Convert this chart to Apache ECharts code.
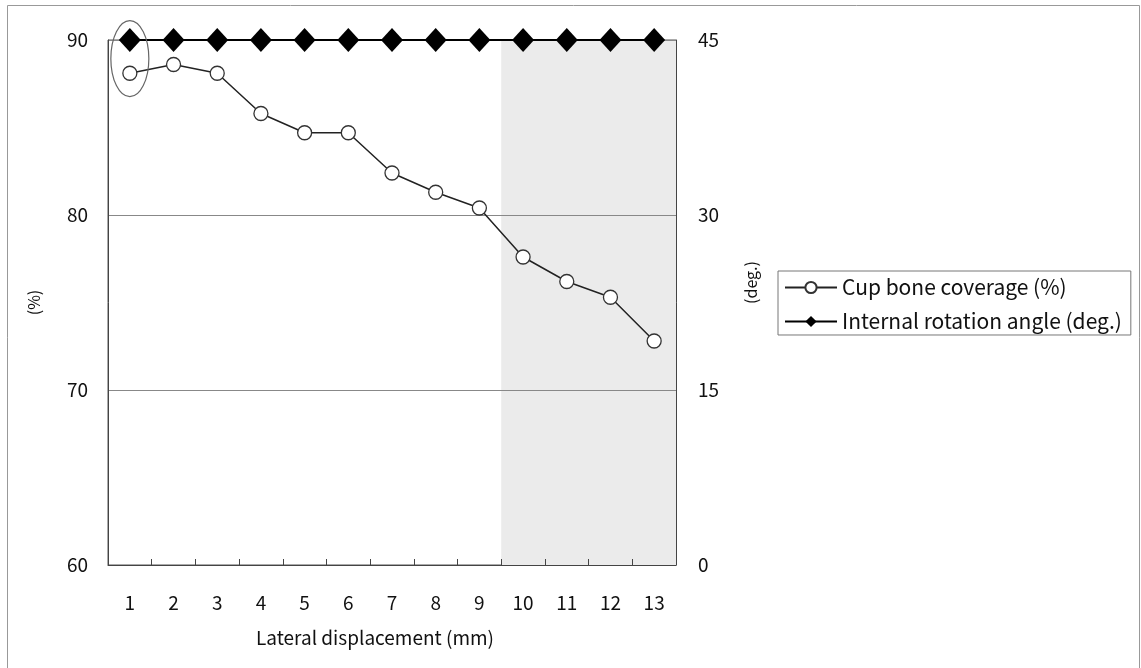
<!DOCTYPE html>
<html>
<head>
<meta charset="utf-8">
<script src="https://cdn.jsdelivr.net/npm/echarts@6/dist/echarts.min.js"></script>
<style>
  html, body { margin: 0; padding: 0; background: #fff; }
  #chart { width: 1141px; height: 668px; }
</style>
</head>
<body>
<div id="chart"></div>
<script>
// Lateral displacement steps (mm)
const displacement = ['1', '2', '3', '4', '5', '6', '7', '8', '9', '10', '11', '12', '13'];
// Cup bone coverage (%) at each displacement
const cupCoverage = [88.1, 88.6, 88.1, 85.8, 84.7, 84.7, 82.4, 81.3, 80.4, 77.6, 76.2, 75.3, 72.8];
// Internal rotation angle (deg.) at each displacement
const rotationAngle = [45, 45, 45, 45, 45, 45, 45, 45, 45, 45, 45, 45, 45];
// Displacement range that is shaded (band edges on a 0.5..13.5 scale)
const shadedRange = [9.5, 13.5];
// Axis ranges
const leftAxis = { min: 60, max: 90, interval: 10 };
const rightAxis = { min: 0, max: 45, interval: 15 };

const FONT = '"Noto Sans CJK JP", "Noto Sans", sans-serif';
const chart = echarts.init(document.getElementById('chart'));

chart.setOption({
  animation: false,
  textStyle: { fontFamily: FONT, color: '#111' },
  grid: {
    left: 108, right: 465, top: 40, bottom: 103,
    show: true, borderColor: '#555', borderWidth: 1
  },
  legend: {
    orient: 'vertical',
    left: 778, top: 271,
    borderColor: '#777', borderWidth: 1,
    padding: [6, 9, 3, 6],
    itemGap: 13,
    itemWidth: 52, itemHeight: 14,
    textStyle: { fontFamily: FONT, fontSize: 21, color: '#111' },
    data: ['Cup bone coverage (%)', 'Internal rotation angle (deg.)']
  },
  xAxis: [{
    type: 'category',
    data: displacement,
    boundaryGap: true,
    z: 2,
    name: 'Lateral displacement (mm)',
    nameLocation: 'middle',
    nameGap: 63,
    nameTextStyle: { fontFamily: FONT, fontSize: 19, color: '#111', padding: [0, 34, 0, 0] },
    axisLine: { lineStyle: { color: '#444', width: 1 } },
    axisTick: { show: true, inside: true, length: 6, lineStyle: { color: '#444' } },
    axisLabel: { margin: 28, fontFamily: FONT, fontSize: 19, color: '#111' }
  }, {
    // helper scale for the shaded band, spanning the same width as the categories
    type: 'value', min: 0.5, max: 13.5, show: false
  }],
  yAxis: [{
    type: 'value',
    z: 2,
    min: leftAxis.min, max: leftAxis.max, interval: leftAxis.interval,
    name: '(%)',
    nameLocation: 'middle',
    nameGap: 66,
    nameTextStyle: { fontFamily: FONT, fontSize: 16, color: '#111' },
    axisLine: { show: true, lineStyle: { color: '#444' } },
    axisTick: { show: false },
    axisLabel: { margin: 20, fontFamily: FONT, fontSize: 19, color: '#111' },
    splitLine: { show: true, lineStyle: { color: '#888', width: 1 } }
  }, {
    type: 'value',
    z: 2,
    position: 'right',
    min: rightAxis.min, max: rightAxis.max, interval: rightAxis.interval,
    name: '(deg.)',
    nameLocation: 'middle',
    nameGap: 67,
    nameTextStyle: { fontFamily: FONT, fontSize: 16, color: '#111', padding: [0, 0, 0, 40] },
    axisLine: { show: true, lineStyle: { color: '#444' } },
    axisTick: { show: false },
    axisLabel: { margin: 22, fontFamily: FONT, fontSize: 19, color: '#111' },
    splitLine: { show: false }
  }],
  series: [{
    // shaded displacement band
    type: 'line',
    xAxisIndex: 1,
    yAxisIndex: 0,
    data: [],
    silent: true,
    z: 0,
    markArea: {
      silent: true,
      z: 0,
      itemStyle: { color: '#ebebeb' },
      data: [[{ xAxis: shadedRange[0] }, { xAxis: shadedRange[1] }]]
    }
  }, {
    name: 'Cup bone coverage (%)',
    type: 'line',
    xAxisIndex: 0,
    yAxisIndex: 0,
    data: cupCoverage,
    symbol: 'circle',
    symbolSize: 14,
    lineStyle: { color: '#222', width: 1.5 },
    itemStyle: { color: '#fff', borderColor: '#333', borderWidth: 1.3 },
    z: 3
  }, {
    name: 'Internal rotation angle (deg.)',
    type: 'line',
    xAxisIndex: 0,
    yAxisIndex: 1,
    data: rotationAngle,
    symbol: 'diamond',
    symbolSize: [22, 24],
    lineStyle: { color: '#000', width: 2 },
    itemStyle: { color: '#000', borderColor: '#000', borderWidth: 0 },
    clip: false,
    z: 4
  }]
});

// Ring around the first displacement step, centred between its two markers
const c1 = chart.convertToPixel({ xAxisIndex: 0, yAxisIndex: 0 }, [0, cupCoverage[0]]);
const c2 = chart.convertToPixel({ xAxisIndex: 0, yAxisIndex: 1 }, [0, rotationAngle[0]]);
chart.setOption({
  graphic: [{
    type: 'ellipse',
    shape: { cx: c1[0], cy: (c1[1] + c2[1]) / 2 + 2, rx: 19, ry: 38 },
    style: { fill: 'none', stroke: '#666', lineWidth: 1.2 },
    z: 10
  }, {
    // outer frame
    type: 'rect',
    shape: { x: 7.5, y: 5.5, width: 1132, height: 680 },
    style: { fill: 'none', stroke: '#999', lineWidth: 1 },
    z: 10
  }]
});
</script>
</body>
</html>
